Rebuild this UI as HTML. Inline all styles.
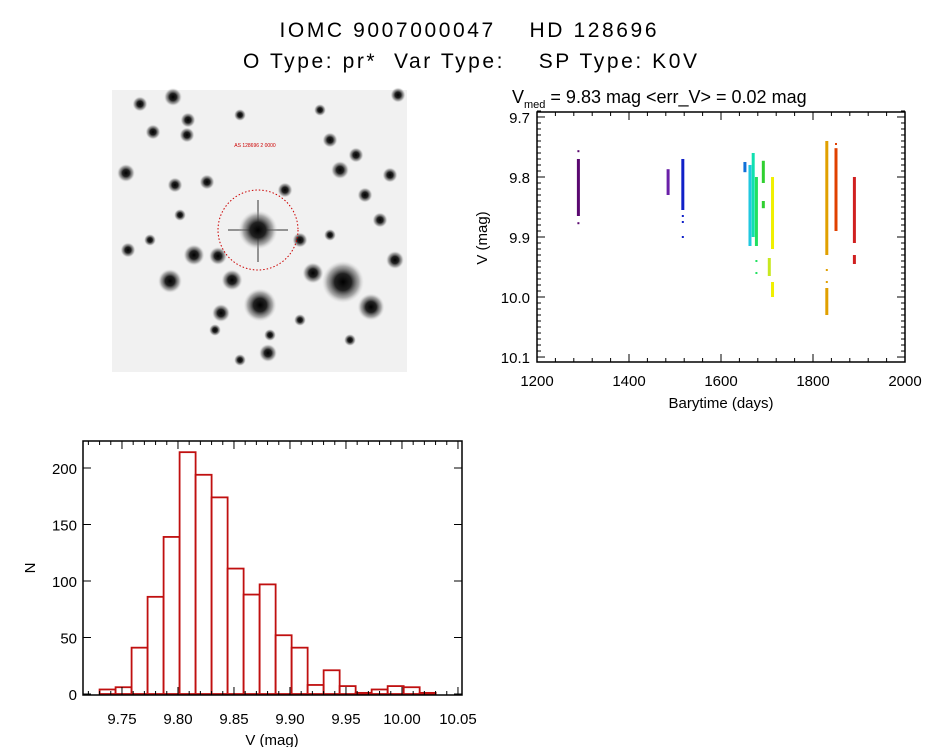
<!DOCTYPE html>
<html><head><meta charset="utf-8"><style>
html,body{margin:0;padding:0;background:#fff;}
svg{display:block;font-family:"Liberation Sans",sans-serif;}
.pre{white-space:pre;}
</style></head><body>
<svg id="root" width="944" height="747" viewBox="0 0 944 747" xmlns="http://www.w3.org/2000/svg">
<text class="pre" x="468" y="37" font-size="21" text-anchor="middle" xml:space="preserve" textLength="377" lengthAdjust="spacing">IOMC 9007000047    HD 128696</text>
<text class="pre" x="470" y="68" font-size="21" text-anchor="middle" xml:space="preserve" textLength="454" lengthAdjust="spacing">O Type: pr*  Var Type:    SP Type: K0V</text>
<defs>
<radialGradient id="star"><stop offset="0" stop-color="#000"/><stop offset="0.4" stop-color="#222"/><stop offset="0.75" stop-color="#777" stop-opacity="0.6"/><stop offset="1" stop-color="#ccc" stop-opacity="0"/></radialGradient>
</defs>
<g id="img">
<rect x="112" y="90" width="295" height="282" fill="#f1f1f1"/>
</g>
<g id="scatter"></g>
<g id="hist"></g>
</svg>
<script>
const NS="http://www.w3.org/2000/svg";
function mk(p,t,a){const e=document.createElementNS(NS,t);for(const k in a)e.setAttribute(k,a[k]);p.appendChild(e);return e;}

// ---- sky image stars ----
const starX=[258,343,260,170,232,313,371,268,221,173,153,126,218,194,207,140,188,187,285,330,356,365,340,320,300,240,180,128,150,240,390,380,330,395,300,270,215,350,175,398];
const starY=[230,282,305,281,280,273,307,353,313,97,132,173,256,255,182,104,120,135,190,140,155,195,170,110,240,115,215,250,240,360,175,220,235,260,320,335,330,340,185,95];
const starR=[13,14,11,8,7,7,9,6,6,6,5,6,6,7,5,5,5,5,5,5,5,5,6,4,5,4,4,5,4,4,5,5,4,6,4,4,4,4,5,5];
const img=document.getElementById('img');
let sp=mk(img,'path',{d:'M228 230 L288 230 M258 200 L258 262',stroke:'#555','stroke-width':2,opacity:0.6});


for(let i=0;i<starX.length;i++){
  const c=mk(img,'circle',{cx:starX[i],cy:starY[i],r:starR[i]*1.5,fill:'url(#star)'});
  
  
}
let circ=mk(img,'circle',{cx:258,cy:230,r:40,fill:'none',stroke:'#c00','stroke-width':1,'stroke-dasharray':'1.5 2'});


let lbl=mk(img,'text',{x:255,y:147,'font-size':5,fill:'#c00','text-anchor':'middle'});lbl.textContent='AS 128696 2 0000';



// ---- light curve ----
const segT=[1290,1485,1517,1652,1663,1670,1677,1692,1692,1705,1712,1712,1830,1830,1850,1890,1890];
const segLo=[9.77,9.787,9.77,9.775,9.78,9.76,9.80,9.773,9.84,9.935,9.80,9.975,9.74,9.985,9.752,9.80,9.93];
const segHi=[9.865,9.83,9.855,9.792,9.915,9.90,9.915,9.81,9.852,9.965,9.92,10.0,9.93,10.03,9.89,9.91,9.945];
const segColor=['#5a0870','#6a20a8','#1020c8','#1070d8','#20c8e0','#10e0b0','#20e060','#30d030','#30d030','#c8e820','#f0f000','#f0f000','#e0a000','#e0a000','#e04000','#d02020','#d02020'];
const dotT=[1290,1290,1517,1517,1517,1677,1677,1712,1830,1830,1850,1850];
const dotV=[9.757,9.877,9.865,9.875,9.9,9.94,9.96,9.915,9.975,9.955,9.745,9.76];
const dotColor=['#5a0870','#5a0870','#1020c8','#1020c8','#1020c8','#20e060','#20e060','#f0f000','#e0a000','#e0a000','#e04000','#e04000'];
const xTicks=[1200,1400,1600,1800,2000];
const yTicks=[9.7,9.8,9.9,10.0,10.1];
const yTickLabels=['9.7','9.8','9.9','10.0','10.1'];

const S={x0:537,x1:905,y0:112,y1:362,tmin:1200,tmax:2000,vmin:9.6917,vmax:10.1083};
const sx=t=>S.x0+(t-S.tmin)/(S.tmax-S.tmin)*(S.x1-S.x0);
const sy=v=>S.y0+(v-S.vmin)/(S.vmax-S.vmin)*(S.y1-S.y0);
const sc=document.getElementById('scatter');
for(let i=0;i<segT.length;i++){
  const r=mk(sc,'rect',{x:sx(segT[i])-1.5,y:sy(segLo[i]),width:3,height:Math.max(2,sy(segHi[i])-sy(segLo[i])),fill:segColor[i]});
  
  
}
for(let i=0;i<dotT.length;i++){
  const r=mk(sc,'rect',{x:sx(dotT[i])-1,y:sy(dotV[i])-1,width:2,height:2,fill:dotColor[i]});
  
  
}
let fr=mk(sc,'rect',{x:S.x0,y:S.y0,width:S.x1-S.x0,height:S.y1-S.y0,fill:'none',stroke:'#000','stroke-width':1.5});


for(let t=1200;t<=2000;t+=40){const x=sx(t);const L=(t%200===0)?8:4;
  mk(sc,'line',{x1:x,x2:x,y1:S.y1,y2:S.y1-L,stroke:'#000'});mk(sc,'line',{x1:x,x2:x,y1:S.y0,y2:S.y0+L,stroke:'#000'});}
for(let k=0;k<=42;k++){const v=9.69+k*0.01;if(v>S.vmax)break;const y=sy(v);const L=(Math.abs(v*10-Math.round(v*10))<1e-6)?8:4;
  mk(sc,'line',{x1:S.x0,x2:S.x0+L,y1:y,y2:y,stroke:'#000'});mk(sc,'line',{x1:S.x1,x2:S.x1-L,y1:y,y2:y,stroke:'#000'});}
xTicks.forEach(t=>{const e=mk(sc,'text',{x:sx(t),y:386,'font-size':15,'text-anchor':'middle'});e.textContent=t;
  
  });
yTicks.forEach((v,i)=>{const e=mk(sc,'text',{x:530,y:sy(v)+6,'font-size':15,'text-anchor':'end'});e.textContent=yTickLabels[i];
  
  });
let xt=mk(sc,'text',{x:721,y:408,'font-size':15,'text-anchor':'middle'});xt.textContent='Barytime (days)';


let yt=mk(sc,'text',{x:0,y:0,'font-size':15,'text-anchor':'middle',transform:'translate(487,238) rotate(-90)'});yt.textContent='V (mag)';


let st=mk(sc,'text',{x:512,y:103,'font-size':18});
st.innerHTML='V<tspan font-size="11" dy="5">med</tspan><tspan dy="-5"> = 9.83 mag &lt;err_V&gt; = 0.02 mag</tspan>';



// ---- histogram ----
const binStart=9.73, binWidth=0.01429;
const counts=[4,6,41,86,139,214,194,174,111,88,97,52,41,8,21,7,1,4,7,6,1];
const hxTicks=[9.75,9.80,9.85,9.90,9.95,10.00,10.05];
const hxLabels=['9.75','9.80','9.85','9.90','9.95','10.00','10.05'];
const hyTicks=[0,50,100,150,200];
const H={x0:83,x1:462,y0:441,y1:695,vmin:9.7152,vmax:10.0536,zeroY:694};
const hx=v=>H.x0+(v-H.vmin)/(H.vmax-H.vmin)*(H.x1-H.x0);
const hy=n=>H.zeroY-n/200*(H.zeroY-468);
const hg=document.getElementById('hist');
counts.forEach((c,i)=>{const a=hx(binStart+i*binWidth),b=hx(binStart+(i+1)*binWidth);
  const r=mk(hg,'rect',{x:a,y:hy(c),width:b-a,height:H.zeroY-hy(c),fill:'none',stroke:'#c01010','stroke-width':1.8});
  
  });
let hf=mk(hg,'rect',{x:H.x0,y:H.y0,width:H.x1-H.x0,height:H.y1-H.y0,fill:'none',stroke:'#000','stroke-width':1.5});


for(let k=0;k<=34;k++){const v=9.72+k*0.01;const x=hx(v);if(x<H.x0||x>H.x1)continue;const L=(Math.round(v*100)%5===0)?8:4;
  mk(hg,'line',{x1:x,x2:x,y1:H.y1,y2:H.y1-L,stroke:'#000'});mk(hg,'line',{x1:x,x2:x,y1:H.y0,y2:H.y0+L,stroke:'#000'});}
hyTicks.forEach(n=>{const y=hy(n);mk(hg,'line',{x1:H.x0,x2:H.x0+8,y1:y,y2:y,stroke:'#000'});mk(hg,'line',{x1:H.x1,x2:H.x1-8,y1:y,y2:y,stroke:'#000'});
  const e=mk(hg,'text',{x:77,y:y+6,'font-size':15,'text-anchor':'end'});e.textContent=n;
  
  });
hxTicks.forEach((v,i)=>{const e=mk(hg,'text',{x:hx(v),y:724,'font-size':15,'text-anchor':'middle'});e.textContent=hxLabels[i];
  
  });
let hxt=mk(hg,'text',{x:272,y:745,'font-size':15,'text-anchor':'middle'});hxt.textContent='V (mag)';


let hyt=mk(hg,'text',{x:0,y:0,'font-size':15,'text-anchor':'middle',transform:'translate(35,568) rotate(-90)'});hyt.textContent='N';


</script>
</body></html>
